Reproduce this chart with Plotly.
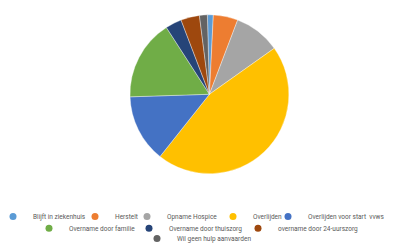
import plotly.graph_objects as go

labels = ["Blijft in ziekenhuis", "Herstelt", "Opname Hospice", "Overlijden",
          "Overlijden voor start  vvws", "Overname door familie",
          "Overname door thuiszorg", "overname door 24-uurszorg",
          "Wil geen hulp aanvaarden"]
values = [1.2, 5.0, 9.4, 45.5, 13.8, 16.4, 3.3, 3.8, 1.6]
colors = ["#5B9BD5", "#ED7D31", "#A5A5A5", "#FFC000", "#4472C4",
          "#70AD47", "#264478", "#9E480E", "#636363"]

# legend layout: pixel x of each entry's symbol centre, pixel y of legend box top
W, H = 395, 245
legend_sym_x = [13, 95, 147, 233, 288, 49, 149, 258, 157]
legend_top_y = [209.5, 209.5, 209.5, 209.5, 209.5, 222, 222, 222, 233]

fig = go.Figure()
fig.add_trace(go.Pie(
    labels=labels, values=values, sort=False, direction="clockwise",
    rotation=-1.5, textinfo="none", hoverinfo="label+percent",
    marker=dict(colors=colors, line=dict(color="rgba(255,255,255,0.6)", width=0.6)),
    domain=dict(x=[0.02, 1], y=[0.27, 0.97]), showlegend=False,
))

layout_legends = {}
for i, (lab, col) in enumerate(zip(labels, colors)):
    name = "legend" if i == 0 else f"legend{i + 1}"
    fig.add_trace(go.Scatter(
        x=[None], y=[None], mode="markers", name=lab, legend=name,
        marker=dict(symbol="circle", size=7, color=col), hoverinfo="skip",
    ))
    layout_legends[name] = dict(
        orientation="h", xanchor="left", yanchor="top",
        x=max(legend_sym_x[i] - 13, 0) / W, y=1 - legend_top_y[i] / H,
        font=dict(size=6.5, color="#595959"), itemwidth=30, indentation=-15,
        bgcolor="rgba(0,0,0,0)", borderwidth=0,
    )

fig.update_layout(
    width=W, height=H,
    margin=dict(l=0, r=0, t=0, b=0),
    paper_bgcolor="white", plot_bgcolor="white",
    font=dict(family="Roboto, Arial, sans-serif", size=7, color="#595959"),
    xaxis=dict(visible=False), yaxis=dict(visible=False),
    showlegend=True,
    **layout_legends,
)

fig.write_html("out.html")
